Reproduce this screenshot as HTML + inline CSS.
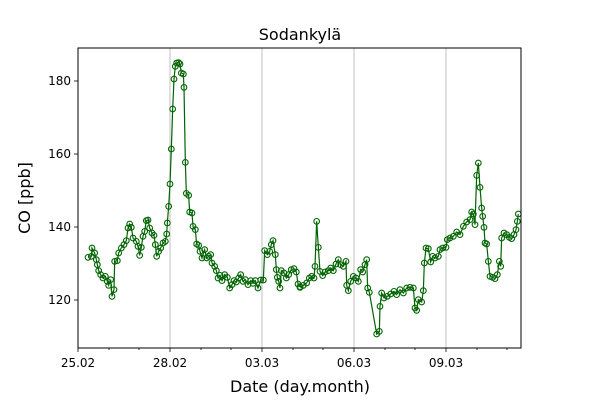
<!DOCTYPE html>
<html><head><meta charset="utf-8"><style>body{margin:0;background:#fff}svg{display:block}text{font-family:"DejaVu Sans","Liberation Sans",sans-serif}</style></head><body>
<svg width="600" height="400" xmlns="http://www.w3.org/2000/svg">
<defs>
<marker id="m" markerUnits="userSpaceOnUse" markerWidth="30" markerHeight="30" refX="15" refY="15" viewBox="0 0 30 30"><circle cx="15" cy="15" r="8.5" fill="none" stroke="#006400" stroke-width="3.3"/></marker>
</defs>
<rect width="600" height="400" fill="#fff"/>
<g stroke="#b0b0b0" stroke-width="0.8">
<line x1="170" y1="48" x2="170" y2="348"/><line x1="262" y1="48" x2="262" y2="348"/><line x1="354" y1="48" x2="354" y2="348"/><line x1="446" y1="48" x2="446" y2="348"/>
</g>
<g transform="translate(78,48) scale(0.33333)" fill="none" stroke="#006400" stroke-width="3.6" marker-start="url(#m)" marker-mid="url(#m)" marker-end="url(#m)">
<polyline points="30,628 40,625 42,600 50,615 55,635 58,650 62,668 68,680 75,690 82,685 88,700 92,712 98,695 102,745 108,725 110,640 118,638 122,615 130,600 138,590 145,578 150,540 155,528 160,538 165,570 175,580 180,595 185,622 190,598 195,565 200,550 205,518 210,516 215,540 222,555 228,562 232,590 236,625 242,610 248,600 255,585 262,580 266,558 268,525 272,475 276,408 280,303 284,183 288,93 292,55 296,45 302,44 306,48 310,75 316,78 318,118 322,343 325,436 332,442 335,492 342,495 345,535 352,545 356,588 362,592 366,610 372,630 380,605 386,630 392,625 398,620 402,645 410,655 415,668 420,690 426,682 432,698 440,680 448,688 455,720 462,710 468,698 475,702 482,690 488,680 495,700 502,695 510,710 518,698 525,706 532,698 540,720 548,696 556,696 560,608 568,620 575,610 580,590 585,578 592,620 595,665 598,688 602,700 606,720 610,668 618,675 625,690 632,680 640,665 648,662 655,672 660,708 666,716"/>
</g>
<g transform="translate(300,48) scale(0.33333)" fill="none" stroke="#006400" stroke-width="3.6" marker-start="url(#m)" marker-mid="url(#m)" marker-end="url(#m)">
<polyline points="0,718 10,712 20,705 28,690 35,685 42,690 45,655 50,520 55,598 60,670 68,683 75,672 85,668 92,660 100,668 108,648 115,635 122,650 130,655 138,640 140,712 145,728 152,700 160,685 168,690 175,700 182,665 188,672 195,650 200,635 203,720 208,733 230,858 238,850 240,775 245,735 252,750 262,745 272,738 282,730 290,740 300,725 310,735 320,720 330,718 340,720 345,780 350,787 355,755 365,762 370,728 373,645 378,600 385,602 392,642 398,625 405,630 415,625 420,605 428,600 438,598 442,575 450,570 460,565 470,552 480,560 490,535 500,522 510,515 515,492 520,498 525,530 530,382 535,345 540,418 545,480 548,505 552,538 555,585 560,588 565,640 570,685 578,688 585,692 592,680 598,640 602,655 605,570 612,555 620,560 628,568 635,572 642,560 648,545 652,520 655,498"/>
</g>
<rect x="78" y="48" width="443" height="300" fill="none" stroke="#000" stroke-width="1"/>
<g stroke="#000" stroke-width="0.8">
<line x1="78" y1="81" x2="74" y2="81"/><line x1="78" y1="154" x2="74" y2="154"/><line x1="78" y1="227" x2="74" y2="227"/><line x1="78" y1="300" x2="74" y2="300"/>
<line x1="78" y1="348" x2="78" y2="352"/><line x1="170" y1="348" x2="170" y2="352"/><line x1="262" y1="348" x2="262" y2="352"/><line x1="354" y1="348" x2="354" y2="352"/><line x1="446" y1="348" x2="446" y2="352"/>
<line x1="109" y1="348" x2="109" y2="350"/><line x1="139" y1="348" x2="139" y2="350"/><line x1="201" y1="348" x2="201" y2="350"/><line x1="231" y1="348" x2="231" y2="350"/><line x1="293" y1="348" x2="293" y2="350"/><line x1="323" y1="348" x2="323" y2="350"/><line x1="385" y1="348" x2="385" y2="350"/><line x1="415" y1="348" x2="415" y2="350"/><line x1="477" y1="348" x2="477" y2="350"/><line x1="507" y1="348" x2="507" y2="350"/>
</g>
<g font-size="12" fill="#000" text-anchor="end">
<text x="71" y="85">180</text><text x="71" y="158">160</text><text x="71" y="231">140</text><text x="71" y="304">120</text>
</g>
<g font-size="12" fill="#000" text-anchor="middle">
<text x="78" y="367">25.02</text><text x="170" y="367">28.02</text><text x="262" y="367">03.03</text><text x="354" y="367">06.03</text><text x="446" y="367">09.03</text>
</g>
<text x="300" y="392" font-size="16" text-anchor="middle">Date (day.month)</text>
<text transform="translate(30,198) rotate(-90)" font-size="16" text-anchor="middle">CO [ppb]</text>
<text x="300" y="40" font-size="16" text-anchor="middle">Sodankylä</text>
</svg>
</body></html>
